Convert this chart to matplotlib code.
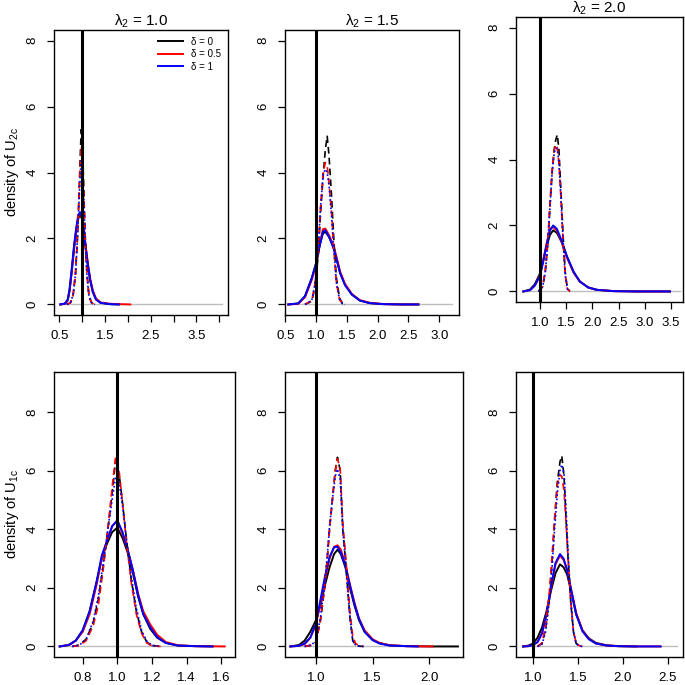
import numpy as np
import matplotlib
matplotlib.use("Agg")
import matplotlib.pyplot as plt

plt.rcParams['font.family'] = ['Liberation Sans', 'DejaVu Sans']
plt.rcParams['mathtext.fontset'] = 'custom'
plt.rcParams['mathtext.rm'] = 'Liberation Sans'
plt.rcParams['mathtext.it'] = 'Liberation Sans'

nan = np.nan

# ---- panel 1: U2c, lambda2 = 1.0
p1_sx = [0.52, 0.62, 0.68, 0.72, 0.77, 0.82, 0.87, 0.91, 0.95, 0.99, 1.03, 1.07, 1.12, 1.17, 1.23, 1.30, 1.40, 1.60, 1.80, 2.05]
p1_s_black = [0, 0.02, 0.12, 0.4, 1.0, 1.7, 2.25, 2.6, 2.72, 2.6, 2.25, 1.75, 1.2, 0.75, 0.38, 0.15, 0.05, 0.01, 0, nan]
p1_s_red = [0, 0.02, 0.13, 0.42, 1.05, 1.75, 2.3, 2.65, 2.78, 2.65, 2.3, 1.8, 1.25, 0.8, 0.42, 0.18, 0.06, 0.02, 0.01, 0]
p1_s_blue = [0, 0.03, 0.15, 0.45, 1.1, 1.8, 2.35, 2.7, 2.8, 2.65, 2.3, 1.8, 1.22, 0.76, 0.38, 0.15, 0.05, 0.01, 0, nan]
p1_dx = [0.66, 0.74, 0.80, 0.85, 0.89, 0.92, 0.95, 0.975, 1.0, 1.03, 1.06, 1.10, 1.14, 1.19, 1.24, 1.28]
p1_d_black = [0, 0.05, 0.3, 0.9, 1.9, 3.0, 4.3, 5.3, 5.0, 3.6, 2.2, 1.0, 0.35, 0.08, 0.01, 0]
p1_d_red = [0, 0.05, 0.3, 0.95, 2.0, 3.0, 4.1, 4.8, 4.6, 3.4, 2.1, 0.95, 0.35, 0.08, 0.01, 0]
p1_d_blue = [0, 0.05, 0.3, 0.9, 1.9, 2.9, 3.8, 4.4, 4.3, 3.3, 2.0, 0.9, 0.3, 0.07, 0.01, 0]
p1_range = [0.52, 4.05]

# ---- panel 2: U2c, lambda2 = 1.5
p2_sx = [0.55, 0.71, 0.82, 0.93, 1.00, 1.06, 1.11, 1.15, 1.21, 1.28, 1.33, 1.39, 1.47, 1.58, 1.71, 1.87, 2.09, 2.40, 2.66]
p2_s_black = [0, 0.03, 0.25, 0.8, 1.25, 1.8, 2.15, 2.2, 2.05, 1.75, 1.4, 0.95, 0.6, 0.3, 0.12, 0.04, 0.01, 0, 0]
p2_s_red = [0, 0.02, 0.22, 0.75, 1.2, 1.85, 2.28, 2.3, 2.1, 1.8, 1.45, 1.0, 0.62, 0.32, 0.13, 0.05, 0.01, 0, 0]
p2_s_blue = [0, 0.03, 0.25, 0.8, 1.25, 1.8, 2.2, 2.25, 2.05, 1.72, 1.38, 0.95, 0.58, 0.3, 0.12, 0.04, 0.01, 0, 0]
p2_dx = [0.82, 0.93, 0.98, 1.035, 1.07, 1.115, 1.15, 1.18, 1.21, 1.25, 1.29, 1.33, 1.38, 1.43, 1.47]
p2_d_black = [0, 0.1, 0.5, 1.5, 2.7, 3.9, 4.7, 5.1, 4.5, 3.3, 1.9, 0.8, 0.2, 0.02, 0]
p2_d_red = [0, 0.12, 0.6, 1.7, 2.9, 4.0, 4.3, 4.2, 3.7, 2.8, 1.6, 0.65, 0.15, 0.02, 0]
p2_d_blue = [0, 0.12, 0.6, 1.7, 2.9, 3.95, 4.1, 4.0, 3.6, 2.7, 1.6, 0.65, 0.15, 0.02, 0]
p2_range = [0.55, 3.2]

# ---- panel 3: U2c, lambda2 = 2.0
p3_sx = [0.68, 0.81, 0.90, 1.00, 1.06, 1.13, 1.19, 1.25, 1.32, 1.41, 1.51, 1.64, 1.76, 1.92, 2.08, 2.40, 2.85, 3.48]
p3_s_black = [0, 0.06, 0.22, 0.55, 0.95, 1.4, 1.72, 1.85, 1.78, 1.5, 1.05, 0.58, 0.3, 0.12, 0.05, 0.01, 0, 0]
p3_s_red = [0, 0.04, 0.18, 0.5, 0.95, 1.5, 1.9, 1.95, 1.85, 1.52, 1.05, 0.58, 0.3, 0.12, 0.05, 0.01, 0, 0]
p3_s_blue = [0, 0.04, 0.18, 0.48, 0.9, 1.45, 1.85, 2.0, 1.9, 1.55, 1.08, 0.6, 0.3, 0.12, 0.05, 0.01, 0, 0]
p3_dx = [0.97, 1.05, 1.10, 1.15, 1.19, 1.23, 1.27, 1.30, 1.33, 1.36, 1.40, 1.44, 1.48, 1.52, 1.57]
p3_d_black = [0, 0.15, 0.6, 1.5, 2.6, 3.6, 4.3, 4.6, 4.75, 4.3, 3.0, 1.7, 0.6, 0.1, 0]
p3_d_red = [0, 0.15, 0.65, 1.6, 2.7, 3.7, 4.3, 4.45, 4.35, 3.9, 2.8, 1.5, 0.5, 0.08, 0]
p3_d_blue = [0, 0.15, 0.6, 1.5, 2.6, 3.6, 4.2, 4.35, 4.3, 3.9, 2.8, 1.5, 0.5, 0.08, 0]
p3_range = [0.68, 3.67]

# ---- panel 4: U1c, lambda2 = 1.0
p4_sx = [0.667, 0.72, 0.76, 0.80, 0.84, 0.88, 0.91, 0.94, 0.97, 1.00, 1.03, 1.06, 1.09, 1.12, 1.15, 1.19, 1.23, 1.28, 1.35, 1.45, 1.55, 1.62]
p4_s_black = [0, 0.05, 0.2, 0.55, 1.2, 2.2, 3.0, 3.5, 3.9, 4.05, 3.7, 3.2, 2.5, 1.7, 1.1, 0.6, 0.3, 0.12, 0.03, 0.01, 0, nan]
p4_s_red = [0, 0.05, 0.2, 0.5, 1.1, 2.1, 3.0, 3.6, 4.1, 4.3, 3.85, 3.3, 2.6, 1.8, 1.2, 0.75, 0.4, 0.15, 0.04, 0.01, 0.005, 0]
p4_s_blue = [0, 0.05, 0.2, 0.55, 1.2, 2.2, 3.1, 3.6, 4.1, 4.3, 3.9, 3.3, 2.6, 1.75, 1.1, 0.65, 0.32, 0.12, 0.03, 0.01, 0, nan]
p4_dx = [0.74, 0.78, 0.82, 0.86, 0.89, 0.92, 0.95, 0.975, 0.99, 1.01, 1.03, 1.05, 1.08, 1.11, 1.14, 1.17, 1.20, 1.25]
p4_d_black = [0, 0.05, 0.25, 0.8, 1.6, 2.8, 4.2, 5.5, 6.35, 5.9, 4.9, 3.8, 2.3, 1.2, 0.5, 0.15, 0.03, 0]
p4_d_red = [0, 0.03, 0.2, 0.7, 1.4, 2.7, 4.3, 5.7, 6.45, 6.0, 4.9, 3.7, 2.2, 1.1, 0.45, 0.12, 0.02, 0]
p4_d_blue = [0, 0.04, 0.25, 0.85, 1.7, 2.9, 4.2, 5.2, 5.8, 5.6, 4.8, 3.8, 2.4, 1.3, 0.55, 0.18, 0.04, 0]
p4_range = [0.667, 1.62]

# ---- panel 5: U1c, lambda2 = 1.5
p5_sx = [0.774, 0.85, 0.90, 0.95, 1.00, 1.04, 1.08, 1.12, 1.16, 1.19, 1.22, 1.26, 1.30, 1.34, 1.38, 1.43, 1.50, 1.56, 1.65, 1.80, 1.90, 2.03, 2.255]
p5_s_black = [0, 0.05, 0.2, 0.5, 0.9, 1.4, 2.1, 2.7, 3.15, 3.3, 3.15, 2.7, 2.0, 1.4, 0.9, 0.5, 0.22, 0.12, 0.04, 0.01, 0.005, 0, 0]
p5_s_red = [0, 0.02, 0.08, 0.3, 0.75, 1.5, 2.3, 3.0, 3.4, 3.45, 3.3, 2.8, 2.1, 1.5, 0.95, 0.55, 0.25, 0.12, 0.04, 0.01, 0.005, 0, nan]
p5_s_blue = [0, 0.02, 0.1, 0.3, 0.8, 1.6, 2.4, 3.05, 3.38, 3.4, 3.2, 2.75, 2.1, 1.45, 0.95, 0.5, 0.22, 0.1, 0.03, 0.01, 0, nan, nan]
p5_dx = [0.90, 0.96, 1.00, 1.04, 1.076, 1.10, 1.12, 1.145, 1.17, 1.19, 1.214, 1.237, 1.26, 1.28, 1.30, 1.325, 1.35, 1.38, 1.42]
p5_d_black = [0, 0.04, 0.15, 0.9, 2.0, 3.0, 4.0, 5.0, 6.0, 6.45, 6.0, 4.0, 3.0, 2.0, 1.0, 0.2, 0.05, 0.01, 0]
p5_d_red = [0, 0.04, 0.15, 0.9, 2.0, 3.0, 4.0, 5.0, 5.95, 6.4, 6.05, 4.2, 3.2, 2.2, 1.2, 0.35, 0.1, 0.03, 0]
p5_d_blue = [0, 0.05, 0.2, 1.0, 2.1, 3.1, 4.1, 5.0, 5.8, 6.05, 5.7, 4.0, 2.9, 1.9, 1.0, 0.2, 0.05, 0.01, 0]
p5_range = [0.774, 2.255]

# ---- panel 6: U1c, lambda2 = 2.0
p6_sx = [0.89, 0.95, 1.00, 1.05, 1.10, 1.15, 1.20, 1.25, 1.30, 1.34, 1.38, 1.43, 1.48, 1.55, 1.62, 1.70, 1.82, 1.95, 2.15, 2.42]
p6_s_black = [0, 0.03, 0.1, 0.3, 0.65, 1.2, 1.9, 2.5, 2.8, 2.7, 2.45, 1.8, 1.1, 0.55, 0.28, 0.12, 0.04, 0.01, 0, nan]
p6_s_red = [0, 0.01, 0.05, 0.15, 0.45, 1.1, 2.0, 2.8, 3.1, 2.95, 2.6, 1.85, 1.15, 0.55, 0.26, 0.1, 0.03, 0.01, 0, 0]
p6_s_blue = [0, 0.01, 0.05, 0.15, 0.45, 1.1, 2.05, 2.85, 3.15, 3.0, 2.6, 1.85, 1.1, 0.52, 0.25, 0.1, 0.03, 0.01, 0, 0]
p6_dx = [1.05, 1.10, 1.14, 1.18, 1.21, 1.24, 1.27, 1.30, 1.32, 1.345, 1.37, 1.39, 1.42, 1.45, 1.48, 1.52, 1.55]
p6_d_black = [0, 0.1, 0.6, 1.6, 2.8, 4.3, 5.6, 6.3, 6.5, 5.8, 4.2, 3.0, 1.5, 0.5, 0.1, 0.01, 0]
p6_d_red = [0, 0.12, 0.7, 1.8, 3.0, 4.4, 5.5, 5.85, 5.8, 5.3, 4.1, 3.0, 1.5, 0.5, 0.12, 0.02, 0]
p6_d_blue = [0, 0.08, 0.5, 1.5, 2.6, 4.0, 5.2, 6.0, 6.2, 5.9, 4.5, 3.2, 1.6, 0.5, 0.1, 0.01, 0]
p6_range = [0.89, 2.6]

titles = ['λ$_2$ = 1.0', 'λ$_2$ = 1.5', 'λ$_2$ = 2.0']
deltas = ['0', '0.5', '1']
colors = ['black', 'red', 'blue']
dash_styles = [(0, (4, 2.5)), (0, (4, 2.5)), (0, (1, 1.5))]

W = H = 685.0
fig = plt.figure(figsize=(6.85, 6.85), dpi=100)


def box(left, right, top, bottom):
    # pixel box -> figure fraction
    return [left / W, 1 - bottom / H, (right - left) / W, (bottom - top) / H]


panels = [
    dict(pos=box(54, 228, 30, 315), xlim=(0.38, 4.19), ylim=(-0.32, 8.32),
         ticks=[0.5, 1.0, 1.5, 2.0, 2.5, 3.0, 3.5, 4.0], labels=['0.5', '', '1.5', '', '2.5', '', '3.5', ''],
         sx=p1_sx, s=[p1_s_black, p1_s_red, p1_s_blue], dx=p1_dx, d=[p1_d_black, p1_d_red, p1_d_blue],
         rng=p1_range, title=titles[0], ylabel=r'density of U$_{\mathrm{2c}}$'),
    dict(pos=box(285, 459, 30, 315), xlim=(0.495, 3.32), ylim=(-0.32, 8.32),
         ticks=[0.5, 1.0, 1.5, 2.0, 2.5, 3.0], labels=['0.5', '1.0', '1.5', '2.0', '2.5', '3.0'],
         sx=p2_sx, s=[p2_s_black, p2_s_red, p2_s_blue], dx=p2_dx, d=[p2_d_black, p2_d_red, p2_d_blue],
         rng=p2_range, title=titles[1], ylabel=None),
    dict(pos=box(516, 683, 17, 302), xlim=(0.54, 3.73), ylim=(-0.32, 8.32),
         ticks=[1.0, 1.5, 2.0, 2.5, 3.0, 3.5], labels=['1.0', '1.5', '2.0', '2.5', '3.0', '3.5'],
         sx=p3_sx, s=[p3_s_black, p3_s_red, p3_s_blue], dx=p3_dx, d=[p3_d_black, p3_d_red, p3_d_blue],
         rng=p3_range, title=titles[2], ylabel=None),
    dict(pos=box(54, 235, 372, 657), xlim=(0.634, 1.68), ylim=(-0.36, 9.36),
         ticks=[0.8, 1.0, 1.2, 1.4, 1.6], labels=['0.8', '1.0', '1.2', '1.4', '1.6'],
         sx=p4_sx, s=[p4_s_black, p4_s_red, p4_s_blue], dx=p4_dx, d=[p4_d_black, p4_d_red, p4_d_blue],
         rng=p4_range, title=None, ylabel=r'density of U$_{\mathrm{1c}}$'),
    dict(pos=box(285, 463, 372, 657), xlim=(0.726, 2.30), ylim=(-0.36, 9.36),
         ticks=[1.0, 1.5, 2.0], labels=['1.0', '1.5', '2.0'],
         sx=p5_sx, s=[p5_s_black, p5_s_red, p5_s_blue], dx=p5_dx, d=[p5_d_black, p5_d_red, p5_d_blue],
         rng=p5_range, title=None, ylabel=None),
    dict(pos=box(516, 683, 372, 657), xlim=(0.81, 2.67), ylim=(-0.36, 9.36),
         ticks=[1.0, 1.5, 2.0, 2.5], labels=['1.0', '1.5', '2.0', '2.5'],
         sx=p6_sx, s=[p6_s_black, p6_s_red, p6_s_blue], dx=p6_dx, d=[p6_d_black, p6_d_red, p6_d_blue],
         rng=p6_range, title=None, ylabel=None),
]

for i, p in enumerate(panels):
    ax = fig.add_axes(p['pos'])
    ax.plot(p['rng'], [0, 0], color='#bebebe', lw=1.0, zorder=1)
    for c, ys in zip(colors, p['s']):
        ax.plot(p['sx'], ys, color=c, lw=1.4, zorder=2)
    for c, ys, ls in zip(colors, p['d'], dash_styles):
        ax.plot(p['dx'], ys, color=c, lw=1.2, linestyle=ls, zorder=3)
    ax.axvline(1.0, color='black', lw=2.2, zorder=4)

    ax.set_xlim(*p['xlim'])
    ax.set_ylim(*p['ylim'])
    ax.set_xticks(p['ticks'])
    ax.set_xticklabels(p['labels'])
    ax.set_yticks([0, 2, 4, 6, 8])
    ax.set_yticklabels(['0', '2', '4', '6', '8'], rotation=90, va='center')
    ax.tick_params(direction='out', length=5, width=0.9, labelsize=9.5)
    ax.tick_params(axis='x', pad=6)
    ax.tick_params(axis='y', pad=6)
    for s in ax.spines.values():
        s.set_linewidth(1.0)
    if p['title']:
        ax.set_title(p['title'], fontsize=11, pad=2)
    if p['ylabel']:
        ax.set_ylabel(p['ylabel'], fontsize=10.5, labelpad=4)
    if i == 0:
        handles = [plt.Line2D([], [], color=c, lw=1.4) for c in colors]
        ax.legend(handles, ['δ = ' + d for d in deltas], loc='upper right',
                  frameon=False, fontsize=7, handlelength=2.6, handletextpad=0.8,
                  labelspacing=0.25, borderaxespad=0.3)

fig.savefig('out.png', dpi=100)
